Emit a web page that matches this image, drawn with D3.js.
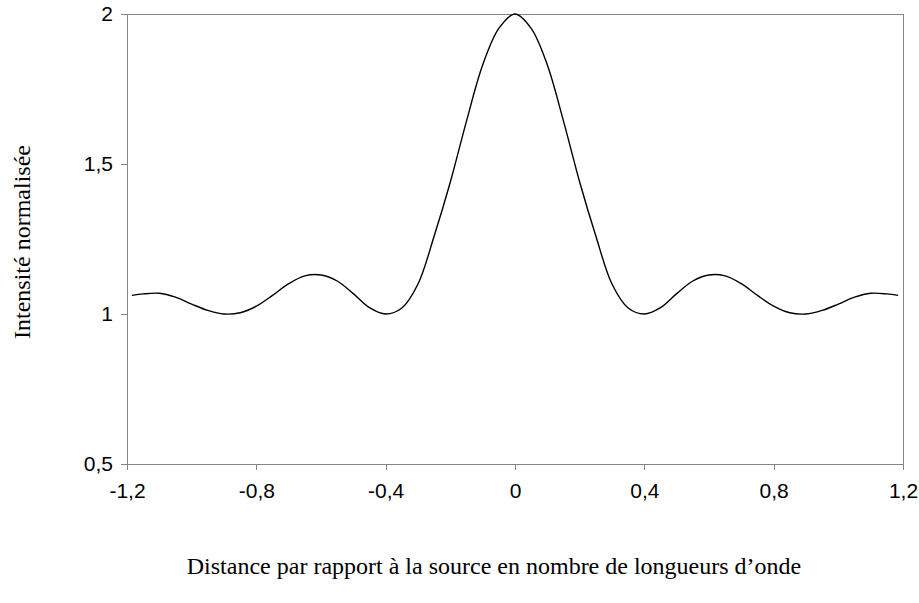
<!DOCTYPE html>
<html>
<head>
<meta charset="utf-8">
<script src="https://cdn.jsdelivr.net/npm/d3@7"></script>
<style>
  html, body { margin: 0; padding: 0; background: #fff; }
  svg { display: block; }
</style>
</head>
<body>
<svg id="chart" width="919" height="603"></svg>
<script>
// Data (symmetric curve)
const halfX = [0, 0.05, 0.1, 0.15, 0.2, 0.25, 0.3, 0.35, 0.4, 0.45, 0.5, 0.55, 0.6, 0.65, 0.7, 0.75, 0.8, 0.85, 0.9, 0.95, 1.0, 1.05, 1.1, 1.15, 1.185];
const halfY = [2.0, 1.952, 1.83, 1.643, 1.44, 1.26, 1.10, 1.02, 1.0, 1.021, 1.068, 1.11, 1.13, 1.127, 1.101, 1.062, 1.026, 1.004, 1.0, 1.012, 1.033, 1.056, 1.069, 1.067, 1.062];
const xTicks = [-1.2, -0.8, -0.4, 0, 0.4, 0.8, 1.2];
const yTicks = [0.5, 1, 1.5, 2];
const xTitle = "Distance par rapport à la source en nombre de longueurs d\u2019onde";
const yTitle = "Intensité normalisée";

(function () {
// Build full symmetric series
const distance = halfX.slice(1).reverse().map(v => -v).concat(halfX);
const intensity = halfY.slice(1).reverse().concat(halfY);
const points = distance.map((d, i) => ({x: d, y: intensity[i]}));

const svg = d3.select("#chart");
const mLeft = 127, mRight = 903, mTop = 14, mBottom = 464;

const x = d3.scaleLinear().domain([-1.2, 1.2]).range([mLeft, mRight]);
const y = d3.scaleLinear().domain([0.5, 2]).range([mBottom, mTop]);

const fmt = v => String(+v.toFixed(1)).replace(".", ",");
const axisColor = "#868686";

// plot box (top and right edges)
svg.append("path")
  .attr("d", `M${mLeft},${mTop}H${mRight}V${mBottom}`)
  .attr("fill", "none").attr("stroke", axisColor).attr("stroke-width", 1)
  .attr("shape-rendering", "crispEdges");

const xAxis = svg.append("g")
  .attr("transform", `translate(0,${mBottom})`)
  .call(d3.axisBottom(x).tickValues(xTicks).tickFormat(fmt).tickSizeInner(6).tickSizeOuter(0).tickPadding(13));
const yAxis = svg.append("g")
  .attr("transform", `translate(${mLeft},0)`)
  .call(d3.axisLeft(y).tickValues(yTicks).tickFormat(fmt).tickSizeInner(6).tickSizeOuter(0).tickPadding(8));

[xAxis, yAxis].forEach(g => {
  g.selectAll("path, line").attr("stroke", axisColor).attr("shape-rendering", "crispEdges");
  g.selectAll("text").attr("fill", "#000")
    .style("font-family", "Arial, 'Liberation Sans', sans-serif").style("font-size", "21px");
});

// curve
svg.append("path")
  .datum(points)
  .attr("fill", "none")
  .attr("stroke", "#000")
  .attr("stroke-width", 1.4)
  .attr("d", d3.line().x(d => x(d.x)).y(d => y(d.y)).curve(d3.curveCatmullRom.alpha(0.5)));

// titles
svg.append("text")
  .attr("x", 494).attr("y", 574)
  .attr("text-anchor", "middle")
  .style("font-family", "'Times New Roman', 'Liberation Serif', serif")
  .style("font-size", "24px")
  .text(xTitle);

svg.append("text")
  .attr("transform", "translate(30,242) rotate(-90)")
  .attr("text-anchor", "middle")
  .style("font-family", "'Times New Roman', 'Liberation Serif', serif")
  .style("font-size", "24px")
  .text(yTitle);
})();
</script>
</body>
</html>
